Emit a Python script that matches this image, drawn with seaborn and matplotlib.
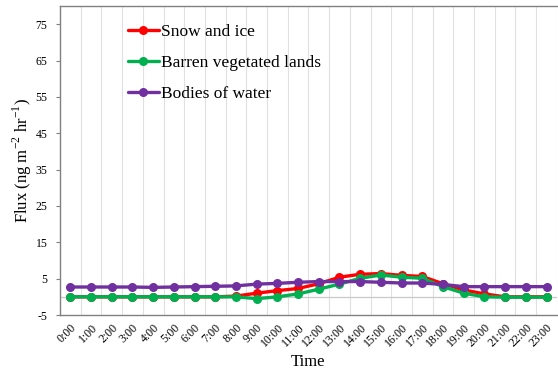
import matplotlib
matplotlib.use("Agg")
import matplotlib.pyplot as plt
import seaborn as sns
import pandas as pd
import numpy as np

hours = [f"{h}:00" for h in range(24)]
snow_ice = [0.0, 0.0, 0.0, 0.0, 0.0, 0.0, 0.0, 0.0, 0.2, 1.0, 1.7, 2.3,
            3.6, 5.4, 6.2, 6.4, 5.9, 5.6, 3.6, 1.9, 0.8, 0.0, 0.0, 0.0]
barren = [0.0, 0.0, 0.0, 0.0, 0.0, 0.0, 0.0, 0.0, 0.0, -0.5, 0.0, 0.8,
          2.1, 3.5, 5.1, 6.0, 5.4, 5.1, 2.8, 1.0, 0.0, -0.1, -0.1, -0.1]
water = [2.7, 2.7, 2.7, 2.7, 2.6, 2.7, 2.8, 2.9, 3.0, 3.5, 3.7, 4.0,
         4.2, 4.2, 4.2, 4.0, 3.8, 3.8, 3.4, 2.8, 2.8, 2.8, 2.8, 2.8]
series_names = ["Snow and ice", "Barren vegetated lands", "Bodies of water"]
colors = ["#FF0000", "#00B050", "#7030A0"]
yticks = [-5, 5, 15, 25, 35, 45, 55, 65, 75]

sns.set_style("white")
plt.rcParams['font.family'] = ['Liberation Serif', 'DejaVu Serif']
plt.rcParams['mathtext.fontset'] = 'custom'
plt.rcParams['mathtext.rm'] = 'Liberation Serif'
plt.rcParams['text.color'] = 'black'
plt.rcParams['axes.labelcolor'] = 'black'
plt.rcParams['xtick.color'] = 'black'
plt.rcParams['ytick.color'] = 'black'

rows = []
for name, vals in zip(series_names, [snow_ice, barren, water]):
    for i, v in enumerate(vals):
        rows.append({"idx": i, "Flux": v, "Series": name})
df = pd.DataFrame(rows)

fig = plt.figure(figsize=(5.58, 3.75), dpi=100)
ax = fig.add_axes([0.1075, 0.16, 0.8905, 0.824])

for name, c in zip(series_names, colors):
    sub = df[df["Series"] == name]
    sns.lineplot(data=sub, x="idx", y="Flux", ax=ax, color=c, linewidth=2.4,
                 marker="o", markersize=6.5, markeredgewidth=0, label=name,
                 zorder=3)

ax.set_xlim(-0.5, 23.5)
ax.set_ylim(-5, 80)
ax.set_yticks(yticks)
ax.set_yticklabels([str(t) for t in yticks], fontsize=8.5)
ax.set_xticks(range(24))
ax.set_xticklabels(hours, rotation=45, ha="right", rotation_mode="anchor", fontsize=8.5)
ax.tick_params(axis="x", length=0, pad=5)
ax.tick_params(axis="y", length=3, width=0.8, color="#808080", pad=6, direction="out", left=True)

for i in range(24):
    ax.axvline(i + 0.5, color="#E0E0E0", linewidth=0.8, zorder=0)
ax.axhline(0, color="#C8C8C8", linewidth=0.9, zorder=1)

for s in ax.spines.values():
    s.set_color("#808080")
    s.set_linewidth(1.0)
ax.spines["right"].set_visible(False)

ax.set_xlabel("Time", fontsize=12, labelpad=3)
ax.set_ylabel("Flux (ng m$^{\\mathrm{-2}}$ hr$^{\\mathrm{-1}}$)", fontsize=12, labelpad=1)

leg = ax.legend(loc="upper left", bbox_to_anchor=(0.122, 0.965), frameon=False,
                fontsize=12.5, handlelength=1.8, handletextpad=0.15, labelspacing=0.85,
                borderaxespad=0)

fig.savefig("out.png", dpi=100)
